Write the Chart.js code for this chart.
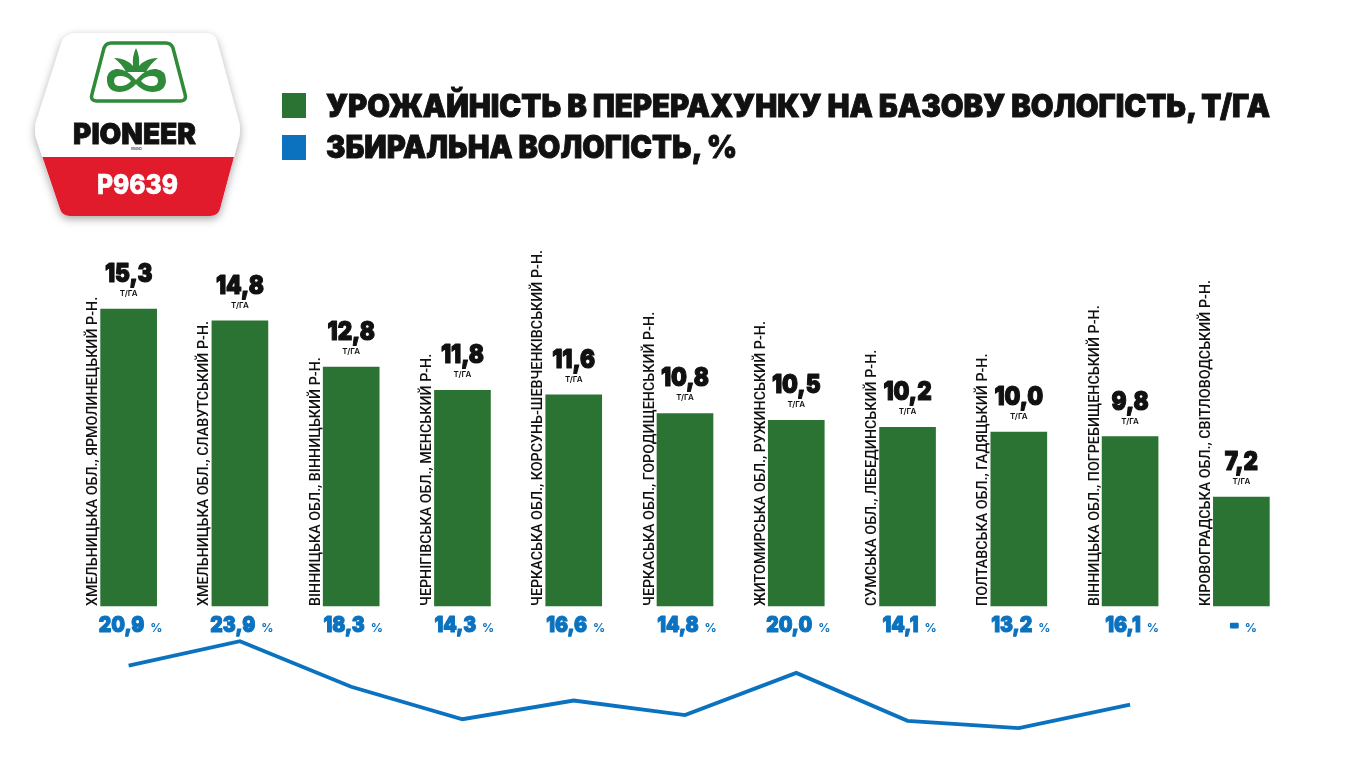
<!DOCTYPE html>
<html>
<head>
<meta charset="utf-8">
<script src="https://cdn.jsdelivr.net/npm/chart.js@4"></script>
<style>
  html,body{margin:0;padding:0;background:#fff;width:1366px;height:768px;overflow:hidden;}
  #wrap{position:relative;width:1366px;height:768px;}
  #c{position:absolute;left:0;top:0;}
  svg{position:absolute;left:0;top:0;}
</style>
</head>
<body>
<div id="wrap">
<canvas id="c" width="1366" height="768"></canvas>
<svg width="1366" height="240" viewBox="0 0 1366 240">
  <defs>
    <filter id="sh" x="-20%" y="-20%" width="140%" height="140%">
      <feDropShadow dx="0" dy="3" stdDeviation="4" flood-color="#000" flood-opacity="0.35"/>
    </filter>
    <clipPath id="hexclip">
      <path d="M80,33 L205,33 Q214,33 217,41 L239,122 Q241,130 239,138 L220,209 Q218,216 210,216 L70,216 Q62,216 60,209 L36,138 Q34,130 36,122 L62,41 Q65,33 80,33 Z"/>
    </clipPath>
  </defs>
  <!-- logo -->
  <path d="M80,33 L205,33 Q214,33 217,41 L239,122 Q241,130 239,138 L220,209 Q218,216 210,216 L70,216 Q62,216 60,209 L36,138 Q34,130 36,122 L62,41 Q65,33 80,33 Z" fill="#fff" filter="url(#sh)"/>
  <g clip-path="url(#hexclip)">
    <rect x="0" y="157" width="260" height="70" fill="#e11b2c"/>
  </g>
  <path d="M111,43 L166,43 Q171,43 173,48 L185,94 Q187,101 180,101 L97,101 Q90,101 92,94 L104,48 Q106,43 111,43 Z" fill="none" stroke="#2f8a3a" stroke-width="3.5"/>
  <g fill="#2f8a3a">
    <path d="M136,48 Q140,56 139,66 Q146,58 158,58 Q150,64 146,72 L126,72 Q122,64 114,58 Q126,58 133,66 Q132,56 136,48 Z"/>
    <path d="M136,80 Q126,68 116,69 Q106,71 107,81 Q108,92 120,92 Q130,91 136,84 Q142,91 152,92 Q165,92 166,81 Q166,70 156,69 Q146,68 136,80 Z M120,76 Q127,76 131,81 Q127,86 120,86 Q114,86 114,81 Q114,76 120,76 Z M152,76 Q158,76 158,81 Q158,86 152,86 Q145,86 141,81 Q145,76 152,76 Z" fill-rule="evenodd"/>
  </g>
  <text x="73" y="144" font-family="Inter, 'Liberation Sans'" font-weight="900" font-size="29" fill="#111" stroke="#111" stroke-width="0.8" textLength="123" lengthAdjust="spacingAndGlyphs">PIONEER</text>
  <text x="131" y="150" font-family="Inter" font-weight="700" font-size="3" fill="#555">BRAND</text>
  <text x="97" y="194" font-family="Inter, 'Liberation Sans'" font-weight="800" font-size="27" fill="#fff" stroke="#fff" stroke-width="0.6" textLength="81" lengthAdjust="spacingAndGlyphs">P9639</text>
  <!-- legend -->
  <rect x="282" y="93" width="24" height="25" fill="#2b7332"/>
  <rect x="282" y="135" width="24" height="25" fill="#0b72c0"/>
  <text id="leg1" x="326" y="117" font-family="Inter, 'Liberation Sans'" font-weight="900" font-size="31" fill="#111" stroke="#111" stroke-width="0.9" textLength="944" lengthAdjust="spacingAndGlyphs"></text>
  <text id="leg2" x="326" y="158" font-family="Inter, 'Liberation Sans'" font-weight="900" font-size="31" fill="#111" stroke="#111" stroke-width="0.9" textLength="411" lengthAdjust="spacingAndGlyphs"></text>
</svg>
</div>
<script>
// ---- data ----
const categories = [
  "ХМЕЛЬНИЦЬКА ОБЛ., ЯРМОЛИНЕЦЬКИЙ Р-Н.",
  "ХМЕЛЬНИЦЬКА ОБЛ., СЛАВУТСЬКИЙ Р-Н.",
  "ВІННИЦЬКА ОБЛ., ВІННИЦЬКИЙ Р-Н.",
  "ЧЕРНІГІВСЬКА ОБЛ., МЕНСЬКИЙ Р-Н.",
  "ЧЕРКАСЬКА ОБЛ., КОРСУНЬ-ШЕВЧЕНКІВСЬКИЙ Р-Н.",
  "ЧЕРКАСЬКА ОБЛ., ГОРОДИЩЕНСЬКИЙ Р-Н.",
  "ЖИТОМИРСЬКА ОБЛ., РУЖИНСЬКИЙ Р-Н.",
  "СУМСЬКА ОБЛ., ЛЕБЕДИНСЬКИЙ Р-Н.",
  "ПОЛТАВСЬКА ОБЛ., ГАДЯЦЬКИЙ Р-Н.",
  "ВІННИЦЬКА ОБЛ., ПОГРЕБИЩЕНСЬКИЙ Р-Н.",
  "КІРОВОГРАДСЬКА ОБЛ., СВІТЛОВОДСЬКИЙ Р-Н."
];
const yieldValues = [15.3, 14.8, 12.8, 11.8, 11.6, 10.8, 10.5, 10.2, 10.0, 9.8, 7.2];
const moistureValues = [20.9, 23.9, 18.3, 14.3, 16.6, 14.8, 20.0, 14.1, 13.2, 16.1, null];
const yieldLegend = "УРОЖАЙНІСТЬ В ПЕРЕРАХУНКУ НА БАЗОВУ ВОЛОГІСТЬ, Т/ГА";
const moistureLegend = "ЗБИРАЛЬНА ВОЛОГІСТЬ, %";
const yieldUnit = "Т/ГА";
const moistureUnit = "%";

document.getElementById('leg1').textContent = yieldLegend;
document.getElementById('leg2').textContent = moistureLegend;

const GREEN = '#2b7332';
const BLUE = '#0b72c0';
const BAR_BASE = 2.5;

const fmt = v => v.toFixed(1).replace('.', ',');

function boldText(ctx, txt, x, y, color, lw) {
  ctx.fillStyle = color;
  ctx.strokeStyle = color;
  ctx.lineWidth = lw;
  ctx.lineJoin = 'round';
  ctx.fillText(txt, x, y);
  ctx.strokeText(txt, x, y);
}

const labelPlugin = {
  id: 'labels',
  afterDatasetsDraw(chart) {
    const ctx = chart.ctx;
    const meta = chart.getDatasetMeta(0);
    const yScale = chart.scales.y;
    const basePix = yScale.getPixelForValue(BAR_BASE);
    ctx.save();
    const catFont = '500 15px Roboto, "Liberation Sans", sans-serif';
    ctx.font = catFont;
    const refW = ctx.measureText(categories[4]).width;
    const sx = 356 / refW;
    meta.data.forEach((bar, i) => {
      const half = bar.width / 2;
      // category label
      ctx.save();
      ctx.translate(bar.x - half - 3.5, basePix);
      ctx.rotate(-Math.PI / 2);
      ctx.scale(sx, 1);
      ctx.fillStyle = '#111';
      ctx.textAlign = 'left';
      ctx.textBaseline = 'alphabetic';
      ctx.font = catFont;
      ctx.fillText(categories[i], 0, 0);
      ctx.restore();

      // value label
      ctx.save();
      ctx.textAlign = 'center';
      ctx.textBaseline = 'alphabetic';
      ctx.translate(bar.x, bar.y - 27);
      ctx.scale(0.86, 1);
      ctx.font = '900 26px Inter, "Liberation Sans", sans-serif';
      boldText(ctx, fmt(yieldValues[i]), 0, 0, '#111', 1.2);
      ctx.restore();
      ctx.save();
      ctx.fillStyle = '#111';
      ctx.textAlign = 'center';
      ctx.font = '600 8px Inter, "Liberation Sans", sans-serif';
      ctx.fillText(yieldUnit, bar.x, bar.y - 13);
      ctx.restore();

      // moisture label
      const m = moistureValues[i];
      const txt = m == null ? '-' : fmt(m);
      ctx.save();
      ctx.fillStyle = BLUE;
      ctx.textBaseline = 'alphabetic';
      const bigFont = '900 22px Inter, "Liberation Sans", sans-serif';
      const smallFont = '700 12px Inter, "Liberation Sans", sans-serif';
      const cx = 0.88;
      ctx.font = bigFont;
      const w1 = ctx.measureText(txt).width * cx;
      ctx.font = smallFont;
      const w2 = ctx.measureText(moistureUnit).width;
      const gap = 6;
      const total = w1 + gap + w2;
      const x0 = bar.x + 2 - total / 2;
      const yb = basePix + 26;
      ctx.save();
      ctx.translate(x0, yb);
      ctx.scale(cx, 1);
      ctx.font = bigFont;
      ctx.textAlign = 'left';
      boldText(ctx, txt, 0, 0, BLUE, m == null ? 2.5 : 1.1);
      ctx.restore();
      ctx.font = smallFont;
      ctx.textAlign = 'left';
      ctx.fillText(moistureUnit, x0 + w1 + gap, yb);
      ctx.restore();
    });
    ctx.restore();
  }
};

new Chart(document.getElementById('c'), {
  type: 'bar',
  data: {
    labels: categories,
    datasets: [
      {
        type: 'bar',
        label: yieldLegend,
        data: yieldValues,
        backgroundColor: GREEN,
        barThickness: 56,
        base: BAR_BASE,
        yAxisID: 'y',
        order: 2
      },
      {
        type: 'line',
        label: moistureLegend,
        data: moistureValues,
        borderColor: BLUE,
        borderWidth: 3.8,
        pointRadius: 0,
        tension: 0,
        fill: false,
        spanGaps: false,
        yAxisID: 'y2',
        order: 1
      }
    ]
  },
  options: {
    responsive: false,
    animation: false,
    devicePixelRatio: 1,
    layout: { padding: { left: 73, right: 69, top: 250, bottom: 28 } },
    plugins: { legend: { display: false }, tooltip: { enabled: false } },
    scales: {
      x: { display: false, offset: true, grid: { display: false } },
      y: { display: false, min: -3.28, max: 17.85 },
      y2: { display: false, min: 11.74, max: 72.08 }
    }
  },
  plugins: [labelPlugin]
});
</script>
</body>
</html>
